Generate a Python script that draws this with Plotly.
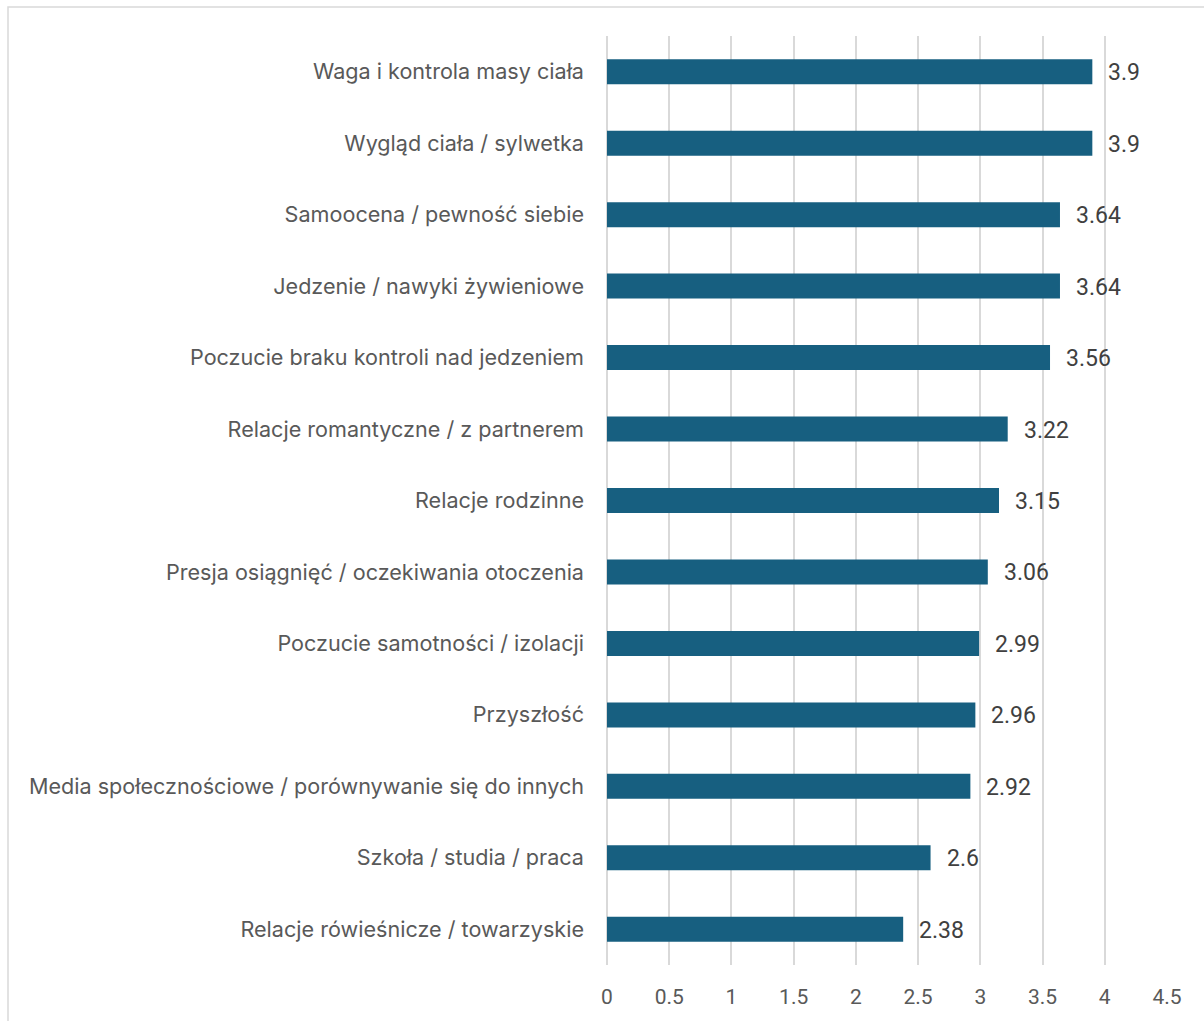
import plotly.graph_objects as go

categories = [
    "Waga i kontrola masy ciała",
    "Wygląd ciała / sylwetka",
    "Samoocena / pewność siebie",
    "Jedzenie / nawyki żywieniowe",
    "Poczucie braku kontroli nad jedzeniem",
    "Relacje romantyczne / z partnerem",
    "Relacje rodzinne",
    "Presja osiągnięć / oczekiwania otoczenia",
    "Poczucie samotności / izolacji",
    "Przyszłość",
    "Media społecznościowe / porównywanie się do innych",
    "Szkoła / studia / praca",
    "Relacje rówieśnicze / towarzyskie",
]
values = [3.9, 3.9, 3.64, 3.64, 3.56, 3.22, 3.15, 3.06, 2.99, 2.96, 2.92, 2.6, 2.38]
x_ticks = [0, 0.5, 1, 1.5, 2, 2.5, 3, 3.5, 4, 4.5]

W, H = 1204, 1021
L, R, T, B = 607, 1167, 36, 965  # plot area in pixels

fig = go.Figure(
    go.Bar(
        x=values,
        y=categories,
        orientation="h",
        marker=dict(color="#175f80", line=dict(width=0)),
        width=0.35,
    )
)

# value labels to the right of each bar
for v, c in zip(values, categories):
    fig.add_annotation(
        x=v, y=c, xref="x", yref="y",
        text=f"{v:g}", showarrow=False,
        xanchor="left", yanchor="middle", xshift=14, yshift=-1,
        font=dict(family="Roboto, Arial, sans-serif", size=23, color="#404040"),
    )

# outer chart border
fig.add_shape(
    type="rect", xref="paper", yref="paper",
    x0=(8 - L) / (R - L), x1=(1215 - L) / (R - L),
    y0=-(1035 - B) / (B - T), y1=1 + (T - 7) / (B - T),
    line=dict(color="#d9d9d9", width=1.5), fillcolor="rgba(0,0,0,0)",
)

fig.update_layout(
    width=W, height=H,
    margin=dict(l=L, r=W - R, t=T, b=H - B, pad=0),
    paper_bgcolor="white", plot_bgcolor="white",
    showlegend=False,
)
fig.update_xaxes(
    range=[0, 4.5], tickvals=x_ticks, ticktext=[f"{t:g}" for t in x_ticks],
    showgrid=True, gridcolor="#d9d9d9", gridwidth=1.5,
    zeroline=True, zerolinecolor="#d9d9d9", zerolinewidth=1.5,
    showline=False, ticks="",
    tickfont=dict(family="Roboto, Arial, sans-serif", size=21, color="#595959"),
    ticklabelstandoff=17,
)
fig.update_yaxes(
    categoryorder="array", categoryarray=categories[::-1],
    showgrid=False, showline=False, ticks="",
    tickfont=dict(family="Inter, sans-serif", size=21.6, color="#595959"),
    ticklabelstandoff=22,
)

fig.write_html("out.html")
